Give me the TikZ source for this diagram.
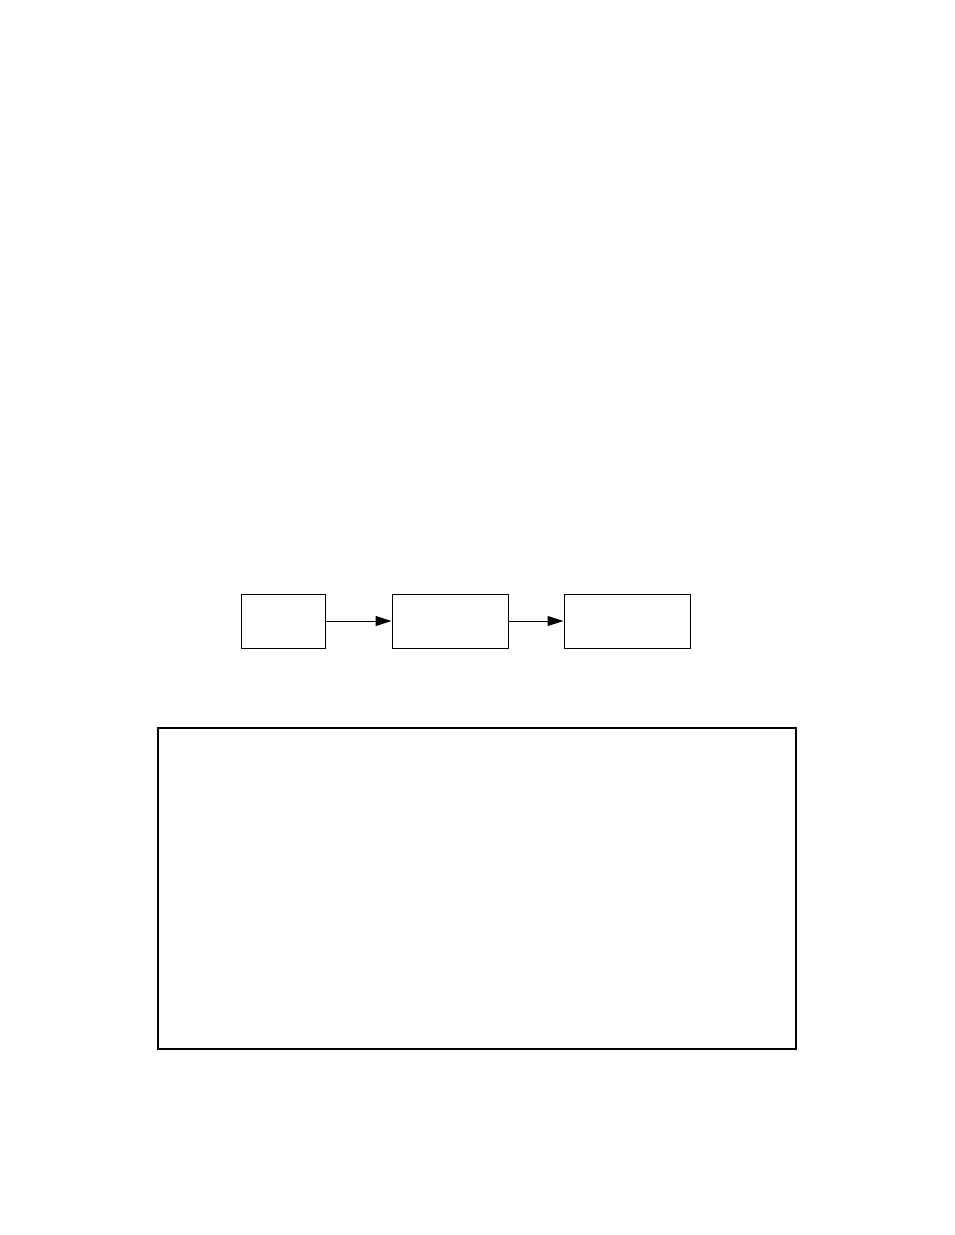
\documentclass[tikz,border=0pt]{standalone}
\usetikzlibrary{arrows.meta}
\begin{document}
\begin{tikzpicture}[x=1pt,y=-1pt,
  box/.style={draw=black,line width=1pt,inner sep=0pt,minimum height=54pt},
  bigbox/.style={draw=black,line width=1.4pt,inner sep=0pt,minimum width=638pt,minimum height=321pt},
  conn/.style={line width=1pt,-{Triangle[length=16pt,width=10pt]}}]
\useasboundingbox[fill=white] (0,0) rectangle (954,1235);
\node[box,minimum width=84pt] (a) at (283,621) {};
\node[box,minimum width=116pt] (b) at (450,621) {};
\node[box,minimum width=126pt] (c) at (627,621) {};
\node[bigbox] (d) at (477,888.5) {};
\draw[conn] (a) -- (b);
\draw[conn] (b) -- (c);
\end{tikzpicture}
\end{document}
